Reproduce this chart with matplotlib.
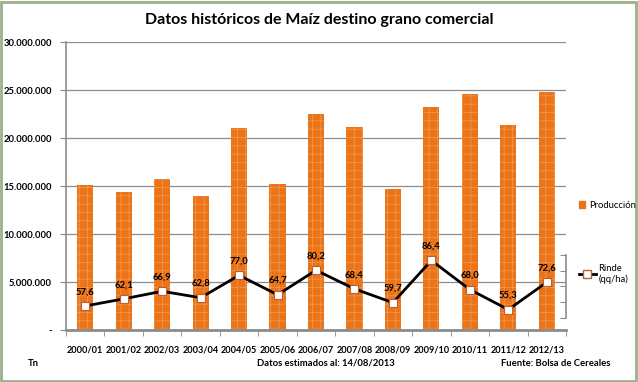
import matplotlib.pyplot as plt
import matplotlib.ticker as mticker
from matplotlib.patches import Rectangle
from matplotlib.lines import Line2D
import numpy as np

plt.rcParams['font.family'] = ['Lato', 'DejaVu Sans']
plt.rcParams['hatch.linewidth'] = 0.5

# === Data ===
campaigns = ["2000/01", "2001/02", "2002/03", "2003/04", "2004/05", "2005/06", "2006/07",
             "2007/08", "2008/09", "2009/10", "2010/11", "2011/12", "2012/13"]
produccion = [15100000, 14400000, 15700000, 14000000, 21000000, 15200000, 22500000,
              21100000, 14700000, 23200000, 24600000, 21400000, 24800000]
rinde = [57.6, 62.1, 66.9, 62.8, 77.0, 64.7, 80.2, 68.4, 59.7, 86.4, 68.0, 55.3, 72.6]

ORANGE = "#EC7418"
x = np.arange(len(campaigns))

fig = plt.figure(figsize=(6.38, 3.82), dpi=100)
ax = fig.add_axes([66 / 638, 52 / 382, 500 / 638, 288 / 382])

bars = ax.bar(x, produccion, width=0.42, color=ORANGE, edgecolor="#F39A52",
              hatch="++", linewidth=0, zorder=2)

ax.set_xlim(-0.5, len(campaigns) - 0.5)
ax.set_ylim(0, 30000000)
ax.set_yticks(np.arange(0, 30000001, 5000000))
ax.yaxis.set_major_formatter(mticker.FuncFormatter(
    lambda v, p: "-" if v == 0 else f"{int(v):,}".replace(",", ".")))
ax.set_xticks(x)
ax.set_xticklabels(campaigns)
ax.set_xticks(np.arange(-0.5, len(campaigns)), minor=True)
ax.tick_params(axis="x", which="major", length=0, pad=11, labelsize=6.6)
ax.tick_params(axis="x", which="minor", length=4, color="#888888", direction="out")
ax.tick_params(axis="y", length=4, color="#888888", labelsize=6.8, pad=6)
for lbl in ax.get_xticklabels() + ax.get_yticklabels():
    lbl.set_fontweight("bold")

ax.grid(axis="y", color="#8C8C8C", linewidth=0.9, zorder=0)
ax.set_axisbelow(True)
for side in ["top", "right"]:
    ax.spines[side].set_visible(False)
ax.spines["left"].set_color("#8C8C8C")
ax.spines["left"].set_linewidth(1.2)
ax.spines["bottom"].set_color("#8C8C8C")
ax.spines["bottom"].set_linewidth(2)

# secondary axis for yield
ax2 = ax.twinx()
ax2.set_ylim(42.4, 224.6)
ax2.plot(x, rinde, color="black", linewidth=2, marker="s", markersize=6,
         markerfacecolor="white", markeredgecolor="#B5603A", markeredgewidth=0.8, zorder=4)
for xi, v in zip(x, rinde):
    ax2.annotate(f"{v:.1f}".replace(".", ","), (xi, v), xytext=(0, 7),
                 textcoords="offset points", ha="center", va="bottom",
                 fontsize=6.8, fontweight="bold")
ax2.set_yticks([50, 60, 70, 80, 90])
ax2.set_yticklabels([])
ax2.spines["right"].set_bounds(50, 90)
ax2.spines["right"].set_color("#8C8C8C")
ax2.spines["right"].set_linewidth(1.2)
ax2.tick_params(axis="y", direction="in", length=4, color="#8C8C8C")
for side in ["top", "left", "bottom"]:
    ax2.spines[side].set_visible(False)

# legends
fig.legend([Rectangle((0, 0), 1, 1, color=ORANGE)], ["Producción"],
           loc="center left", bbox_to_anchor=(570 / 638, 1 - 205 / 382),
           frameon=False, fontsize=6.8, handlelength=0.7, handleheight=0.7,
           handletextpad=0.4)
fig.legend([Line2D([], [], color="black", linewidth=2, marker="s", markersize=6,
                   markerfacecolor="white", markeredgecolor="#B5603A")],
           ["Rinde\n(qq/ha)"],
           loc="center left", bbox_to_anchor=(570 / 638, 1 - 274 / 382),
           frameon=False, fontsize=6.8, handlelength=1.8, handletextpad=0.3)

fig.text(0.5, 1 - 20 / 382, "Datos históricos de Maíz destino grano comercial",
         ha="center", va="center", fontsize=11.5, fontweight="bold")
fig.text(28 / 638, 1 - 363 / 382, "Tn", ha="left", va="center", fontsize=6.8, fontweight="bold")
fig.text(326 / 638, 1 - 363 / 382, "Datos estimados al: 14/08/2013", ha="center",
         va="center", fontsize=6.8, fontweight="bold")
fig.text(610 / 638, 1 - 363 / 382, "Fuente: Bolsa de Cereales", ha="right",
         va="center", fontsize=6.8, fontweight="bold")

fig.patches.append(Rectangle((0.002, 0.003), 0.995, 0.993, transform=fig.transFigure,
                             fill=False, edgecolor="#9DB08A", linewidth=2))

fig.savefig("out.png", dpi=100)
